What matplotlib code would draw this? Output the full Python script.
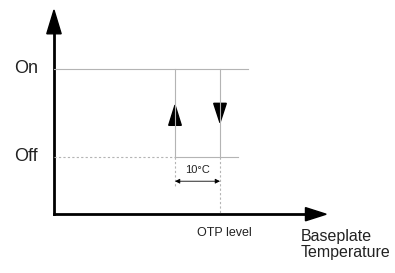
# Thermal protection hysteresis sketch (OTP on/off)

import matplotlib.pyplot as plt

plt.rcParams['font.family'] = ['Liberation Sans', 'DejaVu Sans']

# Schematic values: temperature relative to OTP level (degC), state levels
state_labels = ["Off", "On"]
state_levels = [0.0, 1.0]
otp_level = 0.0
hysteresis = 10.0
temp_axis = [-36.9, 23.6]      # x axis span
state_axis = [-0.65, 1.67]     # y axis span
on_line_end = 6.2
off_line_end = 4.0

fig = plt.figure(figsize=(3.95, 2.73), dpi=100)
ax = fig.add_axes([0, 0, 1, 1])
ax.set_xlim(-48.9, 38.9)
ax.set_ylim(-1.318, 1.784)
ax.axis("off")

off, on = state_levels
release = otp_level - hysteresis
grey = "#b4b4b4"
txt = "#222222"

# axes with arrow heads
ax.plot([temp_axis[0], temp_axis[0]], [state_axis[0], state_axis[1] - 0.2], color="black", lw=2)
ax.plot([temp_axis[0], temp_axis[1] - 3], [state_axis[0], state_axis[0]], color="black", lw=2)
ax.fill([temp_axis[0] - 1.6, temp_axis[0] + 1.6, temp_axis[0]],
        [state_axis[1] - 0.27, state_axis[1] - 0.27, state_axis[1]], color="black")
ax.fill([temp_axis[1] - 4.6, temp_axis[1] - 4.6, temp_axis[1]],
        [state_axis[0] + 0.075, state_axis[0] - 0.075, state_axis[0]], color="black")

# on level and off level
ax.plot([temp_axis[0], on_line_end], [on, on], color=grey, lw=0.8)
ax.plot([temp_axis[0], release], [off, off], color=grey, lw=0.8, ls=(0, (2, 2)))
ax.plot([release, off_line_end], [off, off], color=grey, lw=0.8)

# hysteresis branches
ax.plot([release, release], [off, on], color=grey, lw=0.8)
ax.plot([otp_level, otp_level], [off, on], color=grey, lw=0.8)
ax.plot([release, release], [off, -0.33], color=grey, lw=0.8, ls=(0, (2, 2)))
ax.plot([otp_level, otp_level], [off, state_axis[0]], color=grey, lw=0.8, ls=(0, (2, 2)))

# direction arrows
ax.fill([release - 1.4, release + 1.4, release], [0.36, 0.36, 0.59], color="black")
ax.fill([otp_level - 1.4, otp_level + 1.4, otp_level], [0.61, 0.61, 0.39], color="black")

# 10 degC span
ax.annotate("", xy=(release, -0.275), xytext=(otp_level, -0.275),
            arrowprops=dict(arrowstyle="<|-|>", color="black", lw=0.6,
                            mutation_scale=7, shrinkA=0, shrinkB=0))
ax.text((release + otp_level) / 2, -0.15, "10°C", ha="center", va="center",
        fontsize=8, color=txt)

# labels
for lab, lev in zip(state_labels, state_levels):
    ax.text(temp_axis[0] - 3.6, lev + 0.005, lab, ha="right", va="center",
            fontsize=13, color=txt)
ax.text(otp_level + 1.0, -0.865, "OTP level", ha="center", va="center", fontsize=9, color=txt)
ax.text(18.0, -0.995, "Baseplate\nTemperature", ha="left", va="center", fontsize=11.5,
        linespacing=1.05, color=txt)

plt.savefig("out.png", dpi=100)
